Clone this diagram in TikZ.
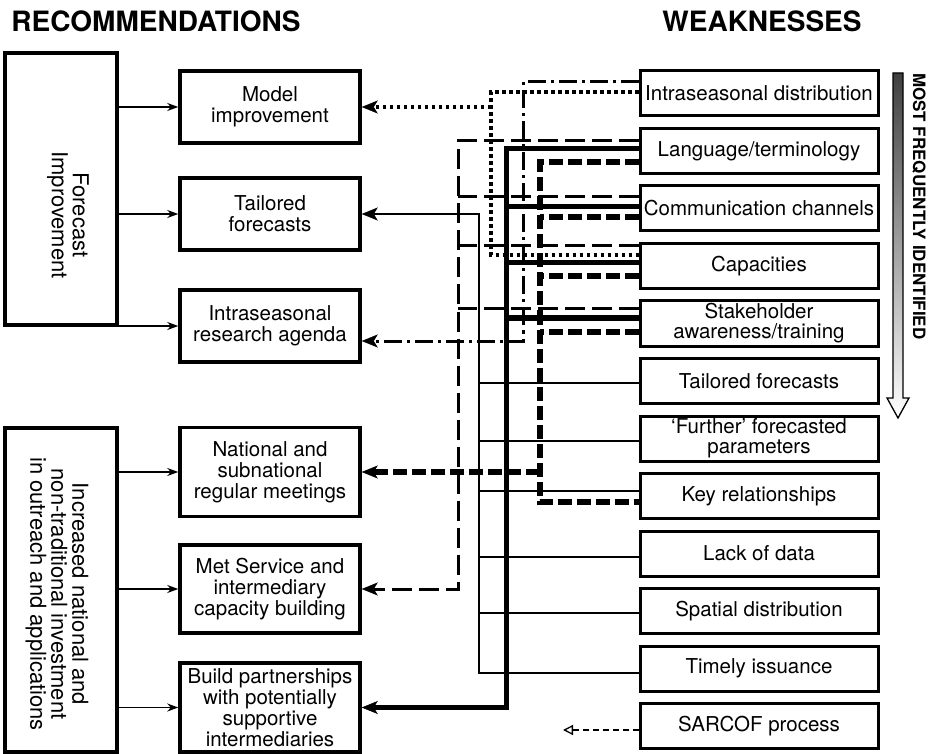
\documentclass[tikz,border=0pt]{standalone}
\usepackage{fontspec}
\setmainfont{TeX Gyre Heros}
\usetikzlibrary{arrows.meta}

\tikzset{
  recbox/.style={draw, line width=3.5pt, minimum width=180pt, minimum height=72pt, inner sep=0pt, align=center, font=\fontsize{20.5}{21}\selectfont},
  weakbox/.style={draw, line width=3pt, minimum width=238pt, minimum height=45pt, inner sep=0pt, align=center, font=\fontsize{20.5}{20}\selectfont},
  groupbox/.style={draw, line width=3.5pt, minimum width=112pt, inner sep=0pt},
  grouptext/.style={rotate=-90, align=center, inner sep=0pt, font=\fontsize{22}{21}\selectfont},
  head/.style={font=\fontsize{28}{28}\selectfont\bfseries},
  feed/.style={line width=1.6pt, -{Stealth[length=11pt,width=8pt]}},
  hit/.style={-{Stealth[length=16pt,width=13pt,inset=4pt,line width=0.5pt]}},
  thinlink/.style={line width=1.8pt},
  thicklink/.style={line width=5pt},
  dotlink/.style={line width=3.5pt, dash pattern=on 3.5pt off 3.5pt},
  longdash/.style={line width=3pt, dash pattern=on 20pt off 7pt},
  dashdotlink/.style={line width=3pt, dash pattern=on 18pt off 5pt on 3pt off 5pt},
  heavydash/.style={line width=6pt, dash pattern=on 14pt off 5pt},
  lightdash/.style={line width=1.6pt, dash pattern=on 6pt off 4pt},
}

\begin{document}
\begin{tikzpicture}[x=1pt, y=-1pt]
    \useasboundingbox (0,0) rectangle (935,754);
    \def\mx{270}
    \def\wx{759}
    \def\wt{93.5}
    \def\wy{57.5}
    % headings
    \node[head] (rechead) at (156,21) {RECOMMENDATIONS};
    \node[head] (weakhead) at (762,21) {WEAKNESSES};
    % left groups
    \node[groupbox, minimum height=272pt] (fcast) at (61,189) {};
    \node[grouptext] (fcasttxt) at (68,215) {Forecast\\Improvement};
    \node[groupbox, minimum height=324pt] (invest) at (61,590) {};
    \node[grouptext] (investtxt) at (57,594) {Increased national and\\non-traditional investment\\in outreach and applications};
    % recommendations
    \node[recbox] (model) at (\mx,107) {Model\\improvement};
    \node[recbox] (tailr) at (\mx,214) {Tailored\\forecasts};
    \node[recbox] (research) at (\mx,326) {Intraseasonal\\research agenda};
    \node[recbox, minimum height=89pt] (meet) at (\mx,472) {National and\\subnational\\regular meetings};
    \node[recbox, minimum height=88pt] (metsvc) at (\mx,589) {Met Service and\\intermediary\\capacity building};
    \node[recbox, minimum height=89pt] (build) at (\mx,707.5) {Build partnerships\\with potentially\\supportive\\intermediaries};
    % weaknesses
    \node[weakbox] (intra) at (\wx,\wt+0*\wy) {Intraseasonal distribution};
    \node[weakbox] (lang) at (\wx,\wt+1*\wy) {Language/terminology};
    \node[weakbox] (comm) at (\wx,\wt+2*\wy) {Communication channels};
    \node[weakbox] (cap) at (\wx,\wt+3*\wy) {Capacities};
    \node[weakbox] (stake) at (\wx,\wt+4*\wy) {Stakeholder\\awareness/training};
    \node[weakbox] (tailw) at (\wx,\wt+5*\wy) {Tailored forecasts};
    \node[weakbox] (further) at (\wx,\wt+6*\wy) {‘Further’ forecasted\\parameters};
    \node[weakbox] (keyrel) at (\wx,\wt+7*\wy) {Key relationships};
    \node[weakbox] (nodata) at (\wx,\wt+8*\wy) {Lack of data};
    \node[weakbox] (spatial) at (\wx,\wt+9*\wy) {Spatial distribution};
    \node[weakbox] (timely) at (\wx,\wt+10*\wy) {Timely issuance};
    \node[weakbox] (sarcof) at (\wx,\wt+11*\wy) {SARCOF process};
    % ranking arrow
    \shadedraw[top color=black!75, bottom color=white, line width=1.3pt]
      (893,73) -- (903,73) -- (903,398) -- (909,398) -- (898,418) -- (887,398) -- (893,398) -- cycle;
    \node[rotate=-90, anchor=west, inner sep=0pt, font=\fontsize{17}{17}\selectfont\bfseries] (freq) at (919,73) {MOST FREQUENTLY IDENTIFIED};
    % trunks
    \coordinate (tLD) at (458,0);
    \coordinate (tThin) at (479,0);
    \coordinate (tDot) at (491,0);
    \coordinate (tThick) at (506,0);
    \coordinate (tDD) at (523,0);
    \coordinate (tHD) at (540,0);
    % group -> recommendation
    \foreach \m in {model,tailr,research}
      \draw[feed] (fcast.east |- \m.west) -- (\m.west);
    \foreach \m in {meet,metsvc,build}
      \draw[feed] (invest.east |- \m.west) -- (\m.west);
    % model improvement
    \draw[dotlink] (intra.west |- 0,92) -| (tDot |- 0,255) -- (cap.west |- 0,255);
    \draw[dotlink, hit] (tDot |- model.east) -- (model.east);
    % tailored forecasts
    \draw[thinlink, hit] (timely.west |- 0,673) -| (tThin |- tailr.east) -- (tailr.east);
    \foreach \bx/\yy in {tailw/383, further/441, keyrel/491, nodata/557, spatial/613}
      \draw[thinlink] (\bx.west |- 0,\yy) -- (tThin |- 0,\yy);
    % research agenda
    \draw[dashdotlink, hit] (intra.west |- 0,82) -| (tDD |- 0,341) -- (research.east |- 0,341);
    % meetings
    \draw[heavydash] (lang.west |- 0,162) -| (tHD |- 0,502) -- (keyrel.west |- 0,502);
    \foreach \bx/\yy in {comm/217, cap/276, stake/332}
      \draw[heavydash] (\bx.west |- 0,\yy) -- (tHD |- 0,\yy);
    \draw[heavydash, hit] (tHD |- meet.east) -- (meet.east);
    % capacity building
    \draw[longdash, hit] (lang.west |- 0,141) -| (tLD |- metsvc.east) -- (metsvc.east);
    \foreach \bx/\yy in {comm/197, cap/246, stake/309}
      \draw[longdash] (\bx.west |- 0,\yy) -- (tLD |- 0,\yy);
    % partnerships
    \draw[thicklink, hit] (lang.west |- 0,149) -| (tThick |- build.east) -- (build.east);
    \foreach \bx/\yy in {comm/207, cap/263, stake/318}
      \draw[thicklink] (\bx.west |- 0,\yy) -- (tThick |- 0,\yy);
    % sarcof
    \coordinate (sarcend) at (563,730);
    \draw[lightdash, -{Triangle[open,length=10pt,width=10pt,line width=1.3pt]}] (sarcof.west |- sarcend) -- (sarcend);
\end{tikzpicture}
\end{document}
